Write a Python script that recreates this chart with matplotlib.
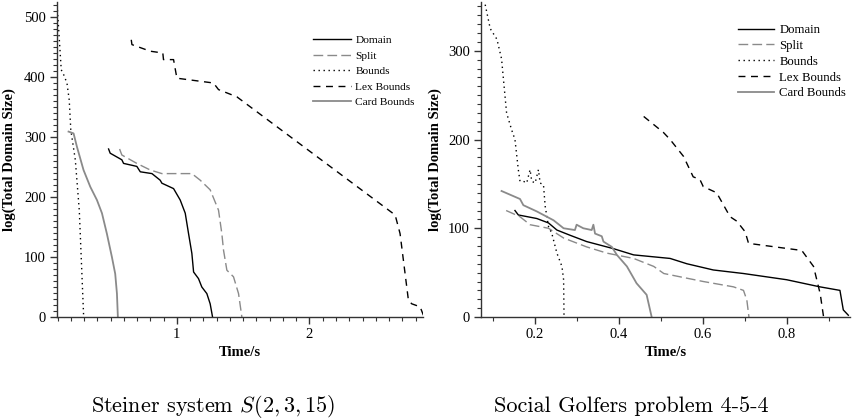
import matplotlib
matplotlib.use("Agg")
import matplotlib.pyplot as plt
from matplotlib.ticker import MultipleLocator

plt.rcParams['mathtext.fontset'] = 'cm'

# ---------------- Left panel: Steiner system S(2,3,15) ----------------
L_domain_t = [0.485, 0.497, 0.585, 0.598, 0.698, 0.724, 0.812, 0.874, 0.887, 0.975, 1.025, 1.063, 1.088, 1.113, 1.126, 1.163, 1.188, 1.226, 1.251, 1.269]
L_domain_v = [280, 273, 262, 256, 251, 242, 239, 228, 223, 214, 195, 173, 139, 106, 75, 64, 50, 39, 22, 0]

L_split_t = [0.568, 0.585, 0.698, 0.799, 0.887, 1.113, 1.176, 1.251, 1.314, 1.339, 1.352, 1.377, 1.427, 1.465, 1.490]
L_split_v = [280, 270, 256, 245, 239, 239, 228, 212, 178, 139, 111, 78, 67, 39, 0]

L_bounds_t = [0.097, 0.128, 0.146, 0.171, 0.188, 0.200, 0.234, 0.264, 0.296, 0.296]
L_bounds_v = [520, 412, 404, 390, 362, 312, 262, 178, 6, 0]

L_lex_t = [0.656, 0.661, 0.799, 0.894, 0.899, 0.975, 1.000, 1.276, 1.314, 1.452, 2.646, 2.683, 2.746, 2.771, 2.834, 2.859]
L_lex_v = [462, 454, 443, 440, 429, 429, 398, 390, 379, 367, 170, 139, 28, 22, 17, 3]

L_card_t = [0.183, 0.221, 0.246, 0.296, 0.347, 0.397, 0.435, 0.472, 0.510, 0.535, 0.548, 0.555]
L_card_v = [309, 306, 284, 245, 217, 195, 173, 139, 100, 72, 39, 0]

# ---------------- Right panel: Social Golfers 4-5-4 ----------------
R_domain_t = [0.152, 0.160, 0.204, 0.232, 0.252, 0.284, 0.323, 0.387, 0.435, 0.522, 0.562, 0.625, 0.697, 0.800, 0.879, 0.927, 0.935, 0.947]
R_domain_v = [120, 115, 111, 106, 98, 92, 85, 77, 70, 66, 60, 53, 49, 42, 34, 30, 8, 2]

R_split_t = [0.131, 0.164, 0.188, 0.232, 0.268, 0.323, 0.371, 0.435, 0.483, 0.507, 0.601, 0.673, 0.697, 0.705, 0.710]
R_split_v = [120, 113, 104, 100, 89, 79, 72, 66, 57, 49, 40, 34, 30, 19, 0]

R_bounds_t = [0.081, 0.093, 0.109, 0.120, 0.132, 0.144, 0.152, 0.160, 0.164, 0.172, 0.180, 0.188, 0.192, 0.200, 0.208, 0.212, 0.220, 0.224, 0.232, 0.240, 0.252, 0.264, 0.268, 0.269]
R_bounds_v = [352, 325, 313, 291, 230, 211, 200, 166, 153, 153, 151, 166, 153, 151, 166, 151, 149, 125, 102, 94, 72, 57, 42, 0]

R_lex_t = [0.459, 0.506, 0.522, 0.554, 0.577, 0.593, 0.601, 0.633, 0.665, 0.681, 0.701, 0.709, 0.836, 0.864, 0.880, 0.888]
R_lex_v = [226, 208, 200, 181, 158, 155, 147, 140, 113, 108, 96, 83, 75, 57, 26, 0]

R_card_t = [0.120, 0.164, 0.172, 0.204, 0.244, 0.268, 0.295, 0.299, 0.315, 0.335, 0.339, 0.343, 0.359, 0.363, 0.383, 0.395, 0.419, 0.442, 0.466, 0.478]
R_card_v = [142, 133, 126, 119, 109, 100, 98, 104, 100, 98, 104, 94, 91, 85, 79, 70, 57, 38, 25, 0]

labels = ["Domain", "Split", "Bounds", "Lex Bounds", "Card Bounds"]

W, H = 852, 418
fig = plt.figure(figsize=(W / 100, H / 100), dpi=100)

serif = "Liberation Serif"
GRAY = "#8a8a8a"
SPINE = "#333333"

styles = [
    dict(color="black", lw=1.0, ls="-"),
    dict(color=GRAY, lw=1.0, ls=(0, (7, 3))),
    dict(color="black", lw=1.0, ls=(0, (1, 2.6))),
    dict(color="black", lw=1.0, ls=(0, (5, 4))),
    dict(color=GRAY, lw=1.3, ls="-"),
]


def setup(ax, xlim, ylim, xmaj, xmin, ymaj, ymin):
    ax.set_xlim(*xlim)
    ax.set_ylim(*ylim)
    for s in ["top", "right"]:
        ax.spines[s].set_visible(False)
    for s in ["left", "bottom"]:
        ax.spines[s].set_color(SPINE)
        ax.spines[s].set_linewidth(1.0)
    ax.xaxis.set_major_locator(MultipleLocator(xmaj))
    ax.xaxis.set_minor_locator(MultipleLocator(xmin))
    ax.yaxis.set_major_locator(MultipleLocator(ymaj))
    ax.yaxis.set_minor_locator(MultipleLocator(ymin))
    ax.tick_params(which="major", direction="out", length=5, width=1.0, color=SPINE,
                   labelsize=10.5, pad=3)
    ax.tick_params(which="minor", direction="out", length=3, width=0.8, color=SPINE)
    for lab in ax.get_xticklabels() + ax.get_yticklabels():
        lab.set_fontfamily(serif)
    ax.set_xlabel("Time/s", fontfamily=serif, fontweight="bold", fontsize=10.5)
    ax.set_ylabel("log(Total Domain Size)", fontfamily=serif, fontweight="bold", fontsize=10.5)


# Left axes
axL = fig.add_axes([57 / W, 1 - 317 / H, 366 / W, 315 / H])
seriesL = [(L_domain_t, L_domain_v), (L_split_t, L_split_v), (L_bounds_t, L_bounds_v),
           (L_lex_t, L_lex_v), (L_card_t, L_card_v)]
for (t, v), st, lab in zip(seriesL, styles, labels):
    axL.plot(t, v, label=lab, **st)
setup(axL, (0.096, 2.856), (0, 525), 1, 0.1, 100, 10)
axL.xaxis.set_label_coords(0.5, -0.092)
axL.yaxis.set_label_coords(-0.112, 0.5)
axL.legend(loc="upper left", bbox_to_anchor=(0.70, 0.895), frameon=False, borderpad=0,
           borderaxespad=0, handlelength=3.3, handletextpad=0.4, labelspacing=0.49,
           prop=dict(family=serif, size=8.2))

# Right axes
axR = fig.add_axes([481 / W, 1 - 317 / H, 369 / W, 315 / H])
seriesR = [(R_domain_t, R_domain_v), (R_split_t, R_split_v), (R_bounds_t, R_bounds_v),
           (R_lex_t, R_lex_v), (R_card_t, R_card_v)]
for (t, v), st, lab in zip(seriesR, styles, labels):
    axR.plot(t, v, label=lab, **st)
setup(axR, (0.071, 0.951), (0, 355), 0.2, 0.1, 100, 10)
axR.xaxis.set_label_coords(0.5, -0.092)
axR.yaxis.set_label_coords(-0.106, 0.5)
axR.legend(loc="upper left", bbox_to_anchor=(0.696, 0.93), frameon=False, borderpad=0,
           borderaxespad=0, handlelength=2.8, handletextpad=0.45, labelspacing=0.30,
           prop=dict(family=serif, size=9.2))

# Captions
fig.text(213 / W, 1 - 406 / H, r"Steiner system $S(2,3,15)$", fontfamily="cmr10",
         fontsize=16, ha="center", va="center")
fig.text(631 / W, 1 - 406 / H, "Social Golfers problem 4-5-4", fontfamily="cmr10",
         fontsize=16, ha="center", va="center")

fig.savefig("out.png", dpi=100)
